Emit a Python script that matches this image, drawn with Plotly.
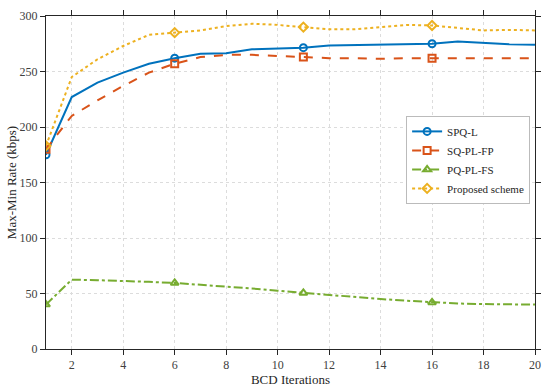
import plotly.graph_objects as go

iterations = list(range(1, 21))
spq_l = [175, 227, 240, 249, 257, 262, 266, 266.5, 270, 271, 271.5, 273.5, 274, 274, 275, 275, 277, 275.5, 274.5, 274]
sq_pl_fp = [180, 210, 224, 237, 249, 257, 263, 265, 265, 264, 263, 262, 262, 261.5, 262, 262, 262, 262, 262, 262]
pq_pl_fs = [40, 62.5, 62, 61.5, 60.5, 59.5, 58, 56.5, 54.5, 52.5, 50.5, 48.5, 46.5, 45, 43.5, 42, 41, 40.5, 40, 40]
proposed = [183, 245, 261, 273, 283, 285, 287, 291, 293, 292, 290, 288, 288, 290, 292, 291.5, 289, 287, 287.5, 287]
marker_idx = [0, 5, 10, 15]

series = [
    ("SPQ-L", spq_l, "#0072BD", "solid", "circle-open"),
    ("SQ-PL-FP", sq_pl_fp, "#D95319", "dash", "square-open"),
    ("PQ-PL-FS", pq_pl_fs, "#77AC30", "dashdot", "triangle-up-open"),
    ("Proposed scheme", proposed, "#EDB120", "dot", "diamond-open"),
]

FONT = "Liberation Serif, Times New Roman, serif"

fig = go.Figure()
for name, ys, color, dash, sym in series:
    fig.add_trace(go.Scatter(
        x=iterations, y=ys, mode="lines", showlegend=False,
        line=dict(color=color, width=2, dash=dash),
    ))
    fig.add_trace(go.Scatter(
        x=[iterations[i] for i in marker_idx], y=[ys[i] for i in marker_idx],
        mode="markers", showlegend=False,
        marker=dict(symbol=sym, size=7, color=color, line=dict(width=2, color=color)),
    ))
    fig.add_trace(go.Scatter(
        x=[None], y=[None], name=name, mode="lines+markers",
        line=dict(color=color, width=2, dash=dash),
        marker=dict(symbol=sym, size=7, color=color, line=dict(width=2, color=color)),
    ))

axis_common = dict(
    showline=True, linecolor="#262626", linewidth=1, mirror="ticks",
    ticks="outside", ticklen=5, tickcolor="#262626",
    showgrid=True, gridcolor="#dcdcdc", griddash="dot", gridwidth=1,
    zeroline=False, automargin=False,
    tickfont=dict(family=FONT, size=12, color="#404040"),
)

fig.update_layout(
    width=550, height=392,
    margin=dict(l=46, r=15, t=16, b=43),
    paper_bgcolor="white", plot_bgcolor="white",
    font=dict(family=FONT, size=12, color="#262626"),
    xaxis=dict(range=[1, 20], tickvals=list(range(2, 21, 2)),
               title=dict(text="BCD Iterations", standoff=0, font=dict(size=13)), **axis_common),
    yaxis=dict(range=[0, 300], tickvals=list(range(0, 301, 50)),
               title=dict(text="Max-Min Rate (kbps)", standoff=0, font=dict(size=13)), **axis_common),
    legend=dict(x=0.99, y=0.70, xanchor="right", yanchor="top",
                bgcolor="white", bordercolor="#bbbbbb", borderwidth=1,
                font=dict(family=FONT, size=11, color="#262626"),
                tracegroupgap=0, itemwidth=30),
    showlegend=True,
)

fig.write_html("out.html", config={"displayModeBar": False},
               post_script="document.body.style.margin='0';document.body.style.overflow='hidden';")
